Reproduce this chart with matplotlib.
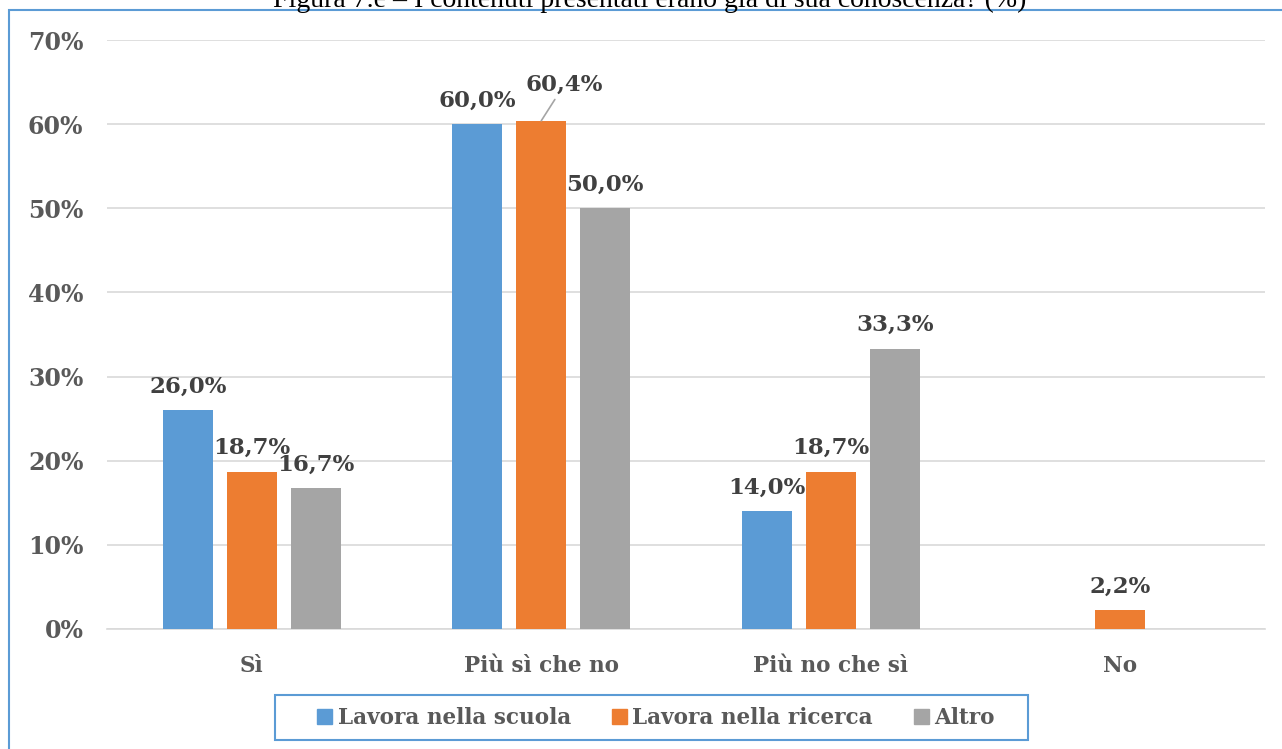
import matplotlib
matplotlib.use("Agg")
import matplotlib.pyplot as plt
from matplotlib.patches import Rectangle
import numpy as np

categories = ["Sì", "Più sì che no", "Più no che sì", "No"]
series_names = ["Lavora nella scuola", "Lavora nella ricerca", "Altro"]
scuola = [26.0, 60.0, 14.0, None]
ricerca = [18.7, 60.4, 18.7, 2.2]
altro = [16.7, 50.0, 33.3, None]
colors = ["#5B9BD5", "#ED7D31", "#A5A5A5"]
yticks = [0, 10, 20, 30, 40, 50, 60, 70]
title = "Figura 7.e – I contenuti presentati erano già di sua conoscenza? (%)"

W, H = 1282, 749
fig = plt.figure(figsize=(W / 100, H / 100), dpi=100)
ax = fig.add_axes([107 / W, 1 - 629 / H, 1158 / W, 589 / H])

txt = "#595959"
lbl = "#404040"
font = ["DejaVu Serif"]
x = np.arange(len(categories))
bw = 0.173
step = 0.221
all_series = [scuola, ricerca, altro]
for i, (vals, c) in enumerate(zip(all_series, colors)):
    offs = (i - 1) * step
    for j, v in enumerate(vals):
        if v is None:
            continue
        ax.bar(x[j] + offs, v, width=bw, color=c, zorder=3)
        lab = f"{v:.1f}".replace(".", ",") + "%"
        if i == 1 and j == 1:
            ax.annotate(lab, xy=(x[j] + offs, v), xytext=(x[j] + offs + 0.08, v + 3.0),
                        ha="center", va="bottom", fontsize=16.5, fontweight="bold",
                        color=lbl, family=font,
                        arrowprops=dict(arrowstyle="-", color="#A5A5A5", lw=1.2,
                                        shrinkA=1, shrinkB=0))
        else:
            ax.text(x[j] + offs, v + 1.5, lab, ha="center", va="bottom",
                    fontsize=16.5, fontweight="bold", color=lbl, family=font)

ax.set_xlim(-0.5, len(categories) - 0.5)
ax.set_ylim(0, 70)
ax.set_yticks(yticks)
ax.set_yticklabels([f"{t}%" for t in yticks], fontsize=17, fontweight="bold",
                   color=txt, family=font)
ax.set_xticks(x)
ax.set_xticklabels(categories, fontsize=15.5, fontweight="bold", color=txt, family=font)
ax.tick_params(axis="both", length=0)
ax.tick_params(axis="y", pad=17)
ax.tick_params(axis="x", pad=19)
ax.grid(axis="y", color="#D9D9D9", lw=1.2, zorder=0)
for s in ["top", "right", "left"]:
    ax.spines[s].set_visible(False)
ax.spines["bottom"].set_color("#D9D9D9")
ax.spines["bottom"].set_linewidth(1.2)

# outer border
fig.patches.append(Rectangle((9 / W, -0.01), 1.1, 1 - 10 / H + 0.01,
                             transform=fig.transFigure, fill=False,
                             edgecolor="#5B9BD5", lw=1.5))
fig.text(650 / W, 1 - 7 / H, title, ha="center", va="baseline", fontsize=20,
         family=["Liberation Serif"], color="#000000")

# legend frame
fig.patches.append(Rectangle((275 / W, 1 - 740 / H), 753 / W, 45 / H,
                             transform=fig.transFigure, fill=False,
                             edgecolor="#5B9BD5", lw=1.5))
handles = [Rectangle((0, 0), 1, 1, color=c) for c in colors]
leg = fig.legend(handles, series_names, loc="center", bbox_to_anchor=(656 / W, 1 - 718 / H),
                 ncol=3, frameon=False, handlelength=0.7, handleheight=0.7,
                 handletextpad=0.25, columnspacing=1.9, borderpad=0.3,
                 prop=dict(family=font, weight="bold", size=15.5))
for t in leg.get_texts():
    t.set_color(txt)

fig.savefig("out.png", dpi=100)
